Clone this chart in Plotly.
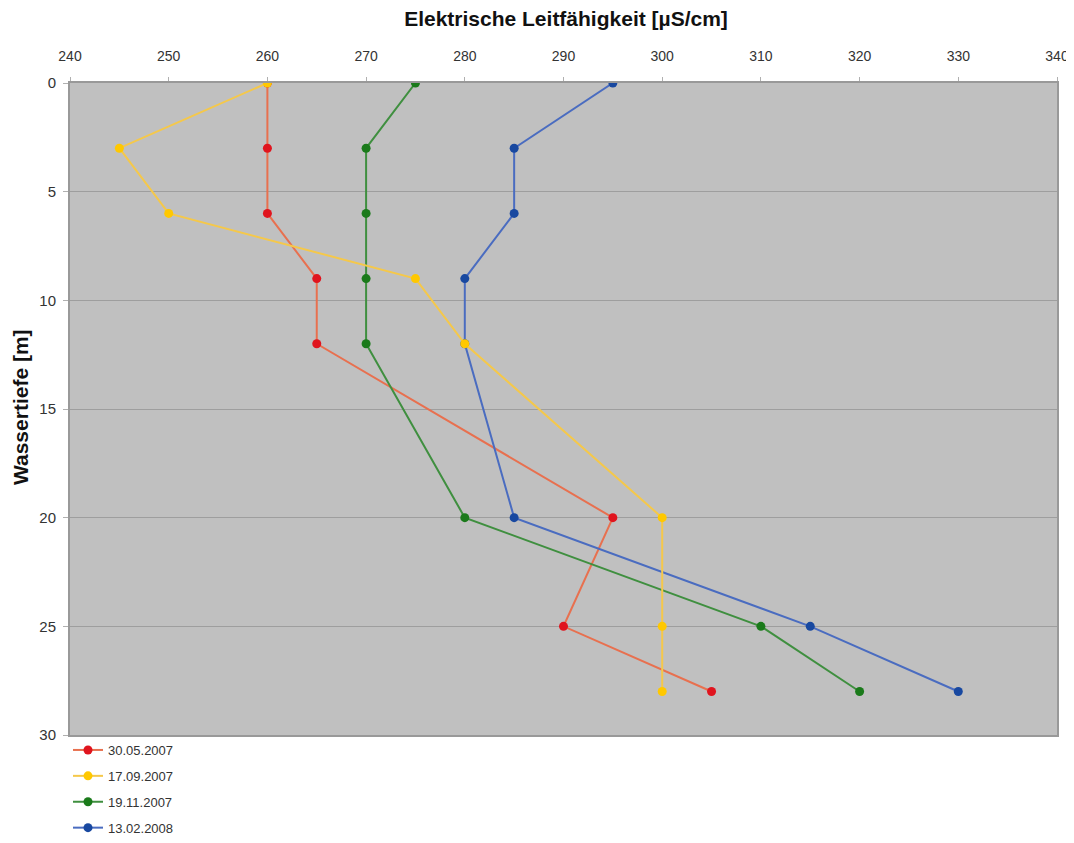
import plotly.graph_objects as go

depth = [0, 3, 6, 9, 12, 20, 25, 28]
labels = ["30.05.2007", "17.09.2007", "19.11.2007", "13.02.2008"]
s_3005 = [260, 260, 260, 265, 265, 295, 290, 305]
s_1709 = [260, 245, 250, 275, 280, 300, 300, 300]
s_1911 = [275, 270, 270, 270, 270, 280, 310, 320]
s_1302 = [295, 285, 285, 280, 280, 285, 315, 330]
x_ticks = [240, 250, 260, 270, 280, 290, 300, 310, 320, 330, 340]

series = [s_3005, s_1709, s_1911, s_1302]
line_colors = ["#e8704f", "#f5c84a", "#3f8f3f", "#4a6cc0"]
marker_colors = ["#e0141e", "#ffc800", "#1a7a1a", "#1848a0"]

FONT = "Liberation Sans Narrow, Arial Narrow, Liberation Sans, sans-serif"

x_ticktext = [str(v) for v in x_ticks]

fig = go.Figure()
for i in [0, 2, 3, 1]:
    fig.add_trace(go.Scatter(
        x=series[i], y=depth, name=labels[i], mode="lines+markers",
        line=dict(color=line_colors[i], width=2),
        marker=dict(color=marker_colors[i], size=9),
        legendgroup=labels[i], legendrank=i,
    ))

W, H = 1066, 827
fig.update_layout(
    width=W, height=H,
    margin=dict(l=62, r=17, t=75, b=100, autoexpand=False),
    paper_bgcolor="white", plot_bgcolor="#c0c0c0",
    font=dict(family=FONT, size=14, color="#333333"),
    title=dict(text="<b>Elektrische Leitfähigkeit [µS/cm]</b>", x=558 / W, xanchor="center",
               y=1 - 11 / H, yanchor="middle", font=dict(family=FONT, size=21, color="#111111")),
    xaxis=dict(side="top", range=[240, 340], tickvals=x_ticks, ticktext=x_ticktext,
               showgrid=False, zeroline=False,
               showline=True, linecolor="#999999", linewidth=2, mirror=True,
               ticks="outside", ticklen=4, tickcolor="#b0b0b0", ticklabelstandoff=10,
               ticklabeloverflow="allow", automargin=False,
               tickfont=dict(family=FONT, size=14, color="#333333")),
    yaxis=dict(range=[30, 0], dtick=5, showgrid=True, gridcolor="#9e9e9e", gridwidth=1,
               zeroline=False, showline=True, linecolor="#999999", linewidth=2, mirror=True,
               ticks="outside", ticklen=5, tickcolor="#b0b0b0", ticklabelstandoff=4,
               automargin=False,
               tickfont=dict(family=FONT, size=15, color="#333333")),
    annotations=[dict(text="<b>Wassertiefe [m]</b>", xref="paper", yref="paper",
                      x=-50 / 987, y=0.503, xanchor="center", yanchor="middle",
                      textangle=-90, showarrow=False,
                      font=dict(family=FONT, size=21, color="#111111"))],
    legend=dict(x=60 / W, xanchor="left", xref="container", y=1 - 727 / H, yref="container", yanchor="top",
                bgcolor="rgba(0,0,0,0)", traceorder="grouped", tracegroupgap=6, itemwidth=30,
                font=dict(family=FONT, size=13, color="#333333")),
    showlegend=True,
)

fig.write_html("out.html")
